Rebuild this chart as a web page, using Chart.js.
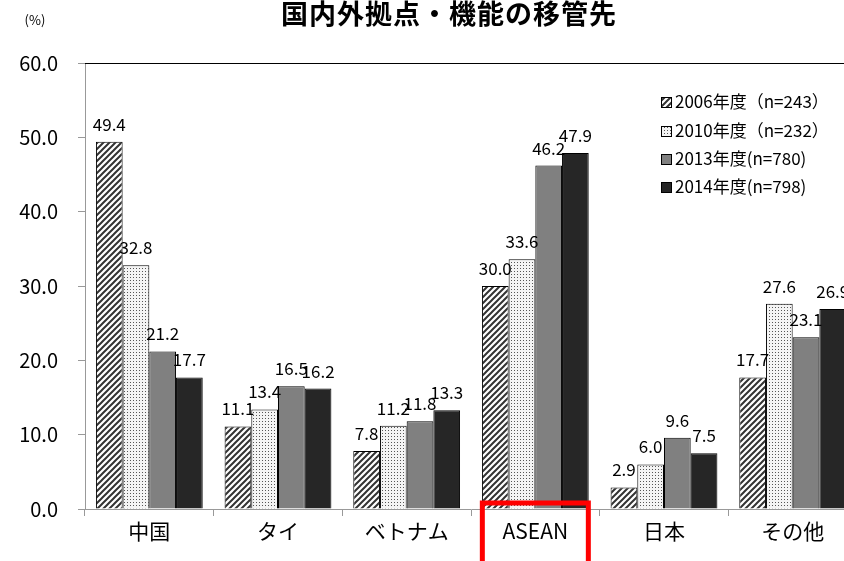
<!DOCTYPE html>
<html>
<head>
<meta charset="utf-8">
<script src="https://cdn.jsdelivr.net/npm/chart.js@4"></script>
<style>
  html, body { margin: 0; padding: 0; background: #fff; overflow: hidden; }
  #wrap { width: 864px; height: 561px; }
</style>
</head>
<body>
<div id="wrap"><canvas id="chart" width="864" height="561"></canvas></div>
<script>
const categories = ['中国', 'タイ', 'ベトナム', 'ASEAN', '日本', 'その他'];
const seriesNames = ['2006年度（n=243）', '2010年度（n=232）', '2013年度(n=780)', '2014年度(n=798)'];
const values2006 = [49.4, 11.1, 7.8, 30.0, 2.9, 17.7];
const values2010 = [32.8, 13.4, 11.2, 33.6, 6.0, 27.6];
const values2013 = [21.2, 16.5, 11.8, 46.2, 9.6, 23.1];
const values2014 = [17.7, 16.2, 13.3, 47.9, 7.5, 26.9];
const yTicks = [0, 10, 20, 30, 40, 50, 60];

const FONT = '"Noto Sans CJK JP", "Noto Sans", sans-serif';

// hatch patterns
function stripePattern() {
  const c = document.createElement('canvas');
  c.width = 6; c.height = 6;
  const g = c.getContext('2d');
  g.fillStyle = '#fff';
  g.fillRect(0, 0, 6, 6);
  g.strokeStyle = '#333';
  g.lineWidth = 2;
  g.beginPath();
  g.moveTo(-1, 7); g.lineTo(7, -1);
  g.moveTo(-4, 4); g.lineTo(4, -4);
  g.moveTo(2, 10); g.lineTo(10, 2);
  g.stroke();
  return g.createPattern(c, 'repeat');
}
function dotPattern() {
  const c = document.createElement('canvas');
  c.width = 3; c.height = 3;
  const g = c.getContext('2d');
  g.fillStyle = '#f4f4f4';
  g.fillRect(0, 0, 3, 3);
  g.fillStyle = '#555';
  g.fillRect(1, 1, 1, 1);
  return g.createPattern(c, 'repeat');
}

const fills = [stripePattern(), dotPattern(), '#808080', '#262626'];
const allValues = [values2006, values2010, values2013, values2014];

const overlay = {
  id: 'overlay',
  afterDatasetsDraw(chart) {
    const ctx = chart.ctx;
    const area = chart.chartArea;
    ctx.save();
    // top border of plot area
    ctx.strokeStyle = '#000';
    ctx.lineWidth = 1;
    ctx.beginPath();
    ctx.moveTo(area.left, area.top + 0.5);
    ctx.lineTo(area.right, area.top + 0.5);
    ctx.stroke();

    // value labels
    ctx.font = '17px ' + FONT;
    ctx.fillStyle = '#000';
    ctx.textAlign = 'center';
    ctx.textBaseline = 'alphabetic';
    chart.data.datasets.forEach((ds, di) => {
      const meta = chart.getDatasetMeta(di);
      meta.data.forEach((bar, i) => {
        ctx.fillText(ds.data[i].toFixed(1), bar.x, bar.y - 11);
      });
    });

    // legend
    const lx = 661, ly = [102, 131, 159, 187];
    ctx.font = '17px ' + FONT;
    ctx.textAlign = 'left';
    ctx.textBaseline = 'middle';
    seriesNames.forEach((name, i) => {
      ctx.fillStyle = fills[i];
      ctx.fillRect(lx, ly[i] - 5, 11, 11);
      ctx.strokeStyle = '#000';
      ctx.lineWidth = 1;
      ctx.strokeRect(lx + 0.5, ly[i] - 4.5, 10, 10);
      ctx.fillStyle = '#000';
      ctx.fillText(name, lx + 14, ly[i]);
    });

    // red box around ASEAN
    const xs = chart.scales.x;
    const cx = xs.getPixelForValue(3);
    ctx.strokeStyle = '#ff0000';
    ctx.lineWidth = 5;
    ctx.strokeRect(cx - 53, 503, 106, 70);

    // title and unit
    ctx.fillStyle = '#000';
    ctx.textAlign = 'center';
    ctx.font = 'bold 27px ' + FONT;
    ctx.letterSpacing = '1px';
    ctx.fillText('国内外拠点・機能の移管先', 449, 14);
    ctx.letterSpacing = '0px';
    ctx.font = '13px ' + FONT;
    ctx.fillText('(%)', 35, 20);
    ctx.restore();
  }
};

new Chart(document.getElementById('chart'), {
  type: 'bar',
  data: {
    labels: categories,
    datasets: allValues.map((v, i) => ({
      label: seriesNames[i],
      data: v,
      backgroundColor: fills[i],
      borderColor: '#000',
      borderWidth: 1,
      categoryPercentage: 0.83,
      barPercentage: 1.0
    }))
  },
  options: {
    responsive: false,
    animation: false,
    events: [],
    layout: { padding: { top: 63, right: 7, left: 0, bottom: 0 } },
    plugins: { legend: { display: false }, tooltip: { enabled: false }, title: { display: false } },
    scales: {
      x: {
        grid: { display: true, drawOnChartArea: false, drawTicks: true, tickLength: 7, color: '#999', offset: true },
        border: { color: '#999' },
        ticks: { color: '#000', font: { family: FONT, size: 21 }, padding: 2 },
        afterFit(scale) { scale.height = 52; }
      },
      y: {
        min: 0,
        max: 60,
        afterBuildTicks(scale) { scale.ticks = yTicks.map(v => ({ value: v })); },
        grid: { display: true, drawOnChartArea: false, drawTicks: true, tickLength: 7, color: '#999' },
        border: { color: '#999' },
        ticks: { color: '#000', font: { family: FONT, size: 20 }, padding: 20, callback: v => v.toFixed(1) },
        afterFit(scale) { scale.width = 85; }
      }
    }
  },
  plugins: [overlay]
});
</script>
</body>
</html>
